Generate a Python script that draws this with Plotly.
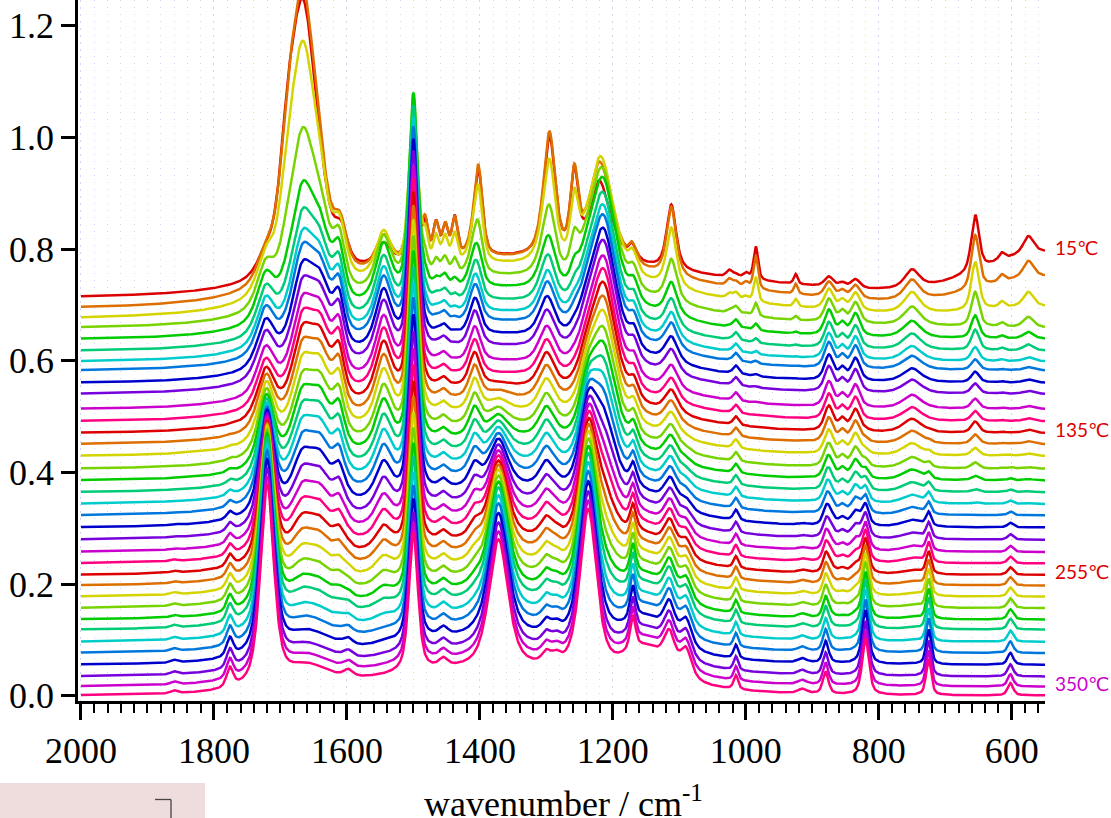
import numpy as np
import plotly.graph_objects as go

# ---------------- data ----------------
# wavenumber sampling (cm-1)
wn = np.arange(2000.0, 549.0, -1.0)

# per-curve baseline offset (value at ~1990 cm-1), top (15 C) to bottom
offsets = [0.712, 0.693, 0.675, 0.658, 0.638, 0.617, 0.598, 0.582, 0.560, 0.540,
           0.513, 0.491, 0.470, 0.450, 0.429, 0.406, 0.385, 0.364, 0.343, 0.3225,
           0.301, 0.279, 0.257, 0.2365, 0.216, 0.197, 0.177, 0.1565, 0.136, 0.118,
           0.096, 0.076, 0.055, 0.034, 0.016, 0.0]
# polymer amount factor
poly = [0.40, 0.60, 0.80, 0.92] + [1.0] * 32
# imidization fraction (poly(amic acid) -> polyimide)
imid = [0, 0, 0, 0, 0, 0, 0, 0, 0, 0, 0, 0,
        0.02, 0.05, 0.08, 0.12, 0.16, 0.21, 0.26, 0.31, 0.37, 0.43, 0.49, 0.55,
        0.61, 0.67, 0.73, 0.78, 0.83, 0.87, 0.91, 0.94, 0.96, 0.98, 0.99, 1.0]
# solvent (main bands) amount
solv = [1.0, 1.0, 0.75, 0.40, 0.20, 0.14, 0.10, 0.08, 0.06, 0.04, 0.03, 0.02,
        0.015, 0.01, 0.005] + [0.0] * 21
# low-wavenumber solvent bands amount
solv2 = [1.0, 0.96, 0.86, 0.62, 0.41, 0.37, 0.25, 0.19, 0.19, 0.18, 0.18, 0.18,
         0.20, 0.17, 0.14, 0.11, 0.08, 0.05, 0.03, 0.01] + [0.0] * 16
# rising tail below 650 cm-1
tail = [0.08, 0.055, 0.02] + [0.0] * 33

# bands: poly(amic acid)
paa_center = [1722, 1668, 1640, 1612, 1545, 1500, 1455, 1408, 1300, 1240, 1214, 1168, 1112, 1015, 875, 855, 835, 750, 1380]
paa_hwhm   = [16, 18, 20, 10, 14, 8, 8, 10, 14, 14, 22, 8, 12, 5, 8, 6, 8, 18, 220]
paa_eta    = [0.6] * 18 + [0.0]
paa_height = [0.085, 0.12, 0.12, 0.08, 0.10, 0.36, 0.015, 0.06, 0.06, 0.035, 0.21, 0.03, 0.04, 0.015, 0.045, 0.02, 0.04, 0.02, 0.08]

# bands: polyimide
pi_center = [1860, 1776, 1720, 1660, 1598, 1500, 1455, 1372, 1300, 1285, 1237, 1170, 1150, 1115, 1090, 1015, 915, 880, 820, 725, 602, 1380]
pi_hwhm   = [6, 6, 12, 40, 8, 8, 8, 17, 8, 8, 15, 5, 40, 10, 10, 4, 8, 5, 6, 4.5, 5, 220]
pi_eta    = [0.6] * 21 + [0.0]
pi_height = [0.005, 0.035, 0.36, 0.035, 0.012, 0.25, 0.015, 0.23, 0.02, 0.015, 0.29, 0.06, 0.06, 0.06, 0.05, 0.025, 0.008, 0.04, 0.10, 0.065, 0.022, 0.045]

# bands: solvent
sol_center = [1690, 1666, 1605, 1482, 1466, 1452, 1438, 1402, 1295, 1258, 1222, 1172, 1112, 1025, 1000, 985, 925, 1250]
sol_hwhm   = [14, 24, 10, 5, 5, 5, 5, 7, 10, 7, 12, 5, 8, 5, 5, 4, 3.5, 350]
sol_eta    = [0.5, 0.4] + [0.6] * 15 + [0.0]
sol_height = [0.12, 0.42, 0.03, 0.06, 0.06, 0.05, 0.07, 0.14, 0.19, 0.14, 0.06, 0.015, 0.10, 0.012, 0.01, 0.06, 0.018, 0.04]

sol2_center = [750, 655, 615, 575]
sol2_hwhm   = [12, 7, 5, 9]
sol2_eta    = [0.6, 0.6, 0.6, 0.6]
sol2_height = [0.025, 0.10, 0.012, 0.03]

palette = ['#dd0000', '#dd6e00', '#d4d400', '#77d400', '#00cc00', '#00cc77',
           '#00cccc', '#0077dd', '#0000cc', '#7700dd', '#cc00cc', '#ff0080']

label_text = ['15\u2103', '135\u2103', '255\u2103', '350\u2103']
label_curve = [0, 12, 24, 34]

# ---------------- build ----------------
def band_sum(centers, widths, etas, heights):
    y = np.zeros_like(wn)
    for c, w, e, h in zip(centers, widths, etas, heights):
        d = (wn - c) / w
        y += h * (e / (1 + d * d) + (1 - e) * np.exp(-np.log(2) * d * d))
    return y

PAA = band_sum(paa_center, paa_hwhm, paa_eta, paa_height)
PI = band_sum(pi_center, pi_hwhm, pi_eta, pi_height)
SOL = band_sum(sol_center, sol_hwhm, sol_eta, sol_height)
SOL2 = band_sum(sol2_center, sol2_hwhm, sol2_eta, sol2_height)
TAIL = np.exp(-np.log(2) * ((wn - 550) / 110.0) ** 2)

fig = go.Figure()
curves = []
for i in range(len(offsets)):
    y = (offsets[i] + poly[i] * ((1 - imid[i]) * PAA + imid[i] * PI)
         + solv[i] * SOL + solv2[i] * SOL2 + tail[i] * TAIL)
    curves.append(y)
    fig.add_trace(go.Scatter(x=wn, y=y, mode='lines',
                             line=dict(color=palette[i % 12], width=2.5),
                             showlegend=False, hoverinfo='skip'))

L, R, T, B = 78, 1045, 0, 701
W, H = 1111, 818
pw, ph = R - L, B - T

for txt, k in zip(label_text, label_curve):
    fig.add_annotation(x=(1052.5 - L) / pw, xref='paper', xanchor='left',
                       y=float(curves[k][-1]) + 0.006, yref='y', yanchor='middle',
                       text=txt, showarrow=False,
                       font=dict(family='Lato, DejaVu Sans', size=19, color=palette[k % 12]))

fig.add_annotation(x=(563 - L) / pw, xref='paper', xanchor='center',
                   y=(B - 826) / ph, yref='paper', yanchor='bottom',
                   text='wavenumber / cm<sup>-1</sup>', showarrow=False,
                   font=dict(family='Liberation Serif', size=36, color='black'))

# pink box at lower left
fig.add_shape(type='rect', xref='paper', yref='paper',
              x0=(0 - L) / pw, x1=(205 - L) / pw, y0=(B - 818) / ph, y1=(B - 783) / ph,
              fillcolor='#efdcdc', line=dict(width=0), layer='below')
fig.add_shape(type='line', xref='paper', yref='paper',
              x0=(155 - L) / pw, x1=(171 - L) / pw, y0=(B - 799.5) / ph, y1=(B - 799.5) / ph,
              line=dict(color='#444444', width=1.3))
fig.add_shape(type='line', xref='paper', yref='paper',
              x0=(171 - L) / pw, x1=(171 - L) / pw, y0=(B - 799.5) / ph, y1=(B - 818) / ph,
              line=dict(color='#444444', width=1.3))

grid_col = '#d4d4f4'
fig.update_layout(
    width=W, height=H,
    margin=dict(l=L, r=W - R, t=T, b=H - B, pad=0, autoexpand=False),
    paper_bgcolor='white', plot_bgcolor='white',
    xaxis=dict(range=[2004.5, 550], autorange=False,
               showline=True, linecolor='black', linewidth=2.5,
               ticks='outside', ticklen=16, tickwidth=2.5, tickcolor='black',
               tick0=0, dtick=200, tickformat='d',
               tickfont=dict(family='Liberation Serif', size=36, color='black'),
               showgrid=True, gridcolor=grid_col, gridwidth=1, griddash='2px,5px',
               zeroline=False,
               minor=dict(tick0=0, dtick=20, ticks='outside', ticklen=9, tickwidth=2,
                          tickcolor='black', showgrid=True, gridcolor=grid_col,
                          gridwidth=1, griddash='1px,6px')),
    yaxis=dict(range=[-0.0095, 1.246], autorange=False,
               showline=True, linecolor='black', linewidth=2.5,
               ticks='outside', ticklen=14, tickwidth=2.5, tickcolor='black',
               tick0=0, dtick=0.2, tickformat='.1f',
               tickfont=dict(family='Liberation Serif', size=36, color='black'),
               showgrid=False, zeroline=False),
)

fig.write_html('out.html', config={'displayModeBar': False},
               post_script="document.body.style.margin='0';document.body.style.overflow='hidden';")
